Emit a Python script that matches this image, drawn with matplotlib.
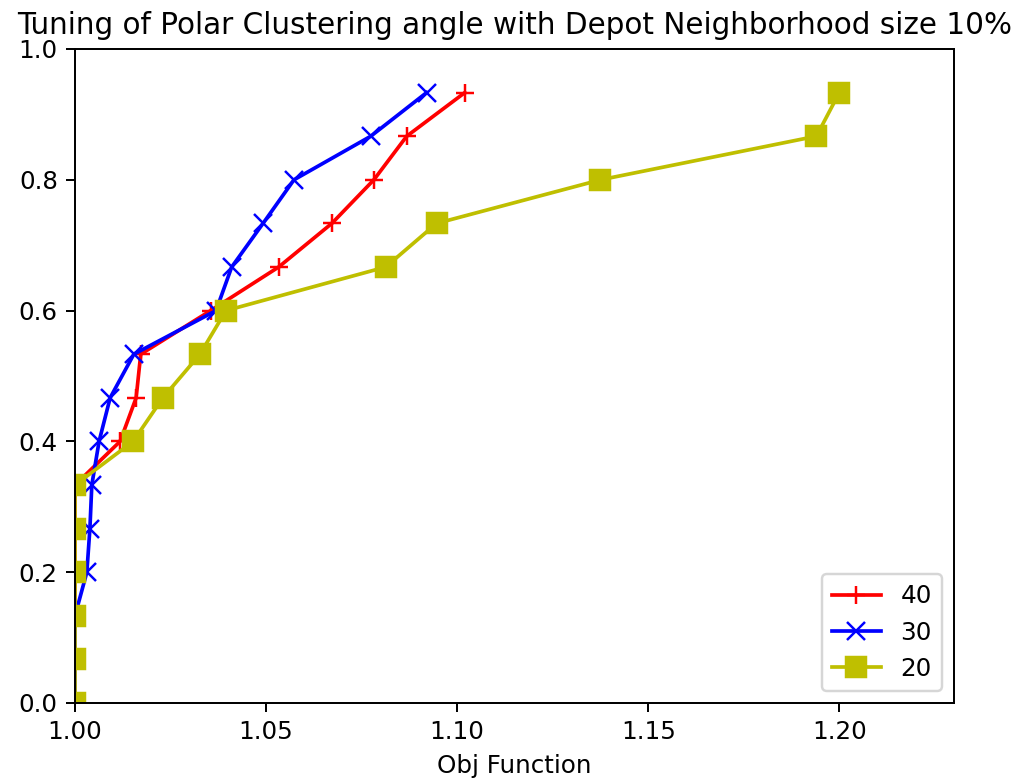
import matplotlib
matplotlib.use("Agg")
import matplotlib.pyplot as plt

levels = [i / 15 for i in range(15)]

obj_40 = [1.0, 1.0, 1.0, 1.0, 1.0, 1.0, 1.0118, 1.0160, 1.0172, 1.0355,
          1.0533, 1.0672, 1.0782, 1.0868, 1.1020]
obj_30 = [1.0, 1.0, 1.0, 1.0031, 1.0039, 1.0044, 1.0063, 1.0092, 1.0154, 1.0369,
          1.0410, 1.0492, 1.0573, 1.0774, 1.0920]
obj_20 = [1.0, 1.0, 1.0, 1.0, 1.0, 1.0, 1.0152, 1.0230, 1.0327, 1.0395,
          1.0813, 1.0946, 1.1375, 1.1940, 1.2000]

labels = ["40", "30", "20"]

DPI = 177
fig = plt.figure(figsize=(1013 / DPI, 778 / DPI), dpi=DPI)
ax = fig.add_axes([75 / 1013, 75 / 778, 879 / 1013, 654 / 778])

ax.plot(obj_40, levels, color="r", marker="+", markersize=7, label=labels[0])
ax.plot(obj_30, levels, color="b", marker="x", markersize=7, label=labels[1])
ax.plot(obj_20, levels, color="y", marker="s", markersize=8, label=labels[2])

ax.set_xlim(1.0, 1.23)
ax.set_ylim(0.0, 1.0)
ax.set_xticks([1.00, 1.05, 1.10, 1.15, 1.20])
ax.set_xticklabels(["1.00", "1.05", "1.10", "1.15", "1.20"])
ax.set_xlabel("Obj Function")
ax.set_title("Tuning of Polar Clustering angle with Depot Neighborhood size 10%")
ax.legend(loc="lower right")

fig.savefig("out.png", dpi=DPI)
